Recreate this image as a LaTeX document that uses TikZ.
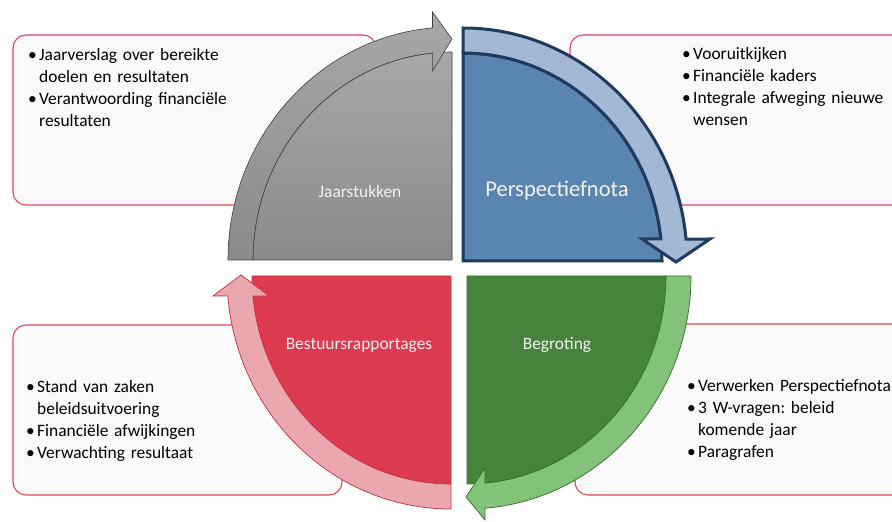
\documentclass[tikz,border=0pt]{standalone}
\usepackage{fontspec}
\setmainfont{Carlito}
\usetikzlibrary{calc}
\frenchspacing

\definecolor{boxred}{HTML}{E0475A}
\definecolor{boxfill}{HTML}{FAFAFA}
\definecolor{grayhi}{HTML}{A8A8A8}
\definecolor{graylo}{HTML}{8A8A8A}
\definecolor{grayline}{HTML}{3F3F3F}
\definecolor{bluedark}{HTML}{5A85B1}
\definecolor{bluelight}{HTML}{A3B8D5}
\definecolor{blueline}{HTML}{1F3A5C}
\definecolor{greendark}{HTML}{48833D}
\definecolor{greenlight}{HTML}{82C279}
\definecolor{greenline}{HTML}{356B2C}
\definecolor{reddark}{HTML}{DC3A4F}
\definecolor{redlight}{HTML}{EAA7B0}
\definecolor{redline}{HTML}{C42D40}
\definecolor{labelwhite}{HTML}{F2F2F2}

\newcommand{\bulitem}[1]{\hangindent=11pt\hangafter=1\noindent
  \makebox[11pt][l]{\textbullet}#1\par}

\begin{document}
\begin{tikzpicture}[x=1pt,y=1pt,
    infobox/.style={draw=boxred,line width=1.1pt,fill=boxfill,rounded corners=13pt},
    itemtext/.style={anchor=base west,inner sep=0pt,text width=#1,align=left,
      font=\fontsize{17.4}{22}\selectfont},
    quadlabel/.style={anchor=base,inner sep=0pt,text=labelwhite,
      font=\fontsize{17.4}{21}\selectfont},
    greyshape/.style={draw=grayline,line width=0.6pt,top color=grayhi,bottom color=graylo},
    blueshape/.style={draw=blueline,line width=3pt,fill=#1},
    greenshape/.style={draw=greenline,line width=0.7pt,fill=#1},
    redshape/.style={draw=redline,line width=0.7pt,fill=#1}]
  \clip (0,0) rectangle (892,522);
  \fill[white] (0,0) rectangle (892,522);

    \coordinate (J0) at (452,262);
    \coordinate (P0) at (463,261);
    \coordinate (B0) at (467,246);
    \coordinate (R0) at (451,246);
    \coordinate (J1) at (452,483);
    \coordinate (P1) at (676,260);
    \coordinate (B1) at (466,25);
    \coordinate (R1) at (241,247);

      \draw[infobox] (13,317) rectangle (376,487);
      \draw[infobox] (570,317) rectangle (910,487);
      \draw[infobox] (13,27) rectangle (342,197);
      \draw[infobox] (575,27) rectangle (910,198);

      \draw[greyshape] (J0) -- ++(180:199 and 208)
        arc[start angle=180,end angle=90,x radius=199,y radius=208] -- cycle;
      \draw[greyshape] (J0) ++(180:224 and 233)
        arc[start angle=180,end angle=95,x radius=224,y radius=233]
        -- ++(0,16) -- (J1) -- (432.6,451) -- ($(J0)+(95.6:199 and 208)$)
        arc[start angle=95.6,end angle=180,x radius=199,y radius=208] -- cycle;

      \draw[blueshape=bluedark] (P0) -- ++(90:199 and 208)
        arc[start angle=90,end angle=0,x radius=199,y radius=208] -- cycle;
      \draw[blueshape=bluelight] (P0) ++(90:224 and 233)
        arc[start angle=90,end angle=5.4,x radius=224,y radius=233]
        -- (710,283) -- (P1) -- (642,283) -- ($(P0)+(6.1:199 and 208)$)
        arc[start angle=6.1,end angle=90,x radius=199,y radius=208] -- cycle;

      \draw[greenshape=greendark] (B0) -- ++(0:199 and 208)
        arc[start angle=0,end angle=-90,x radius=199,y radius=208] -- cycle;
      \draw[greenshape=greenlight] (B0) ++(0:224 and 233)
        arc[start angle=0,end angle=-85.4,x radius=224,y radius=233]
        -- (485,2) -- (B1) -- (485,54) -- ($(B0)+(-84.8:199 and 208)$)
        arc[start angle=-84.8,end angle=0,x radius=199,y radius=208] -- cycle;

      \draw[redshape=reddark] (R0) -- ++(-90:199 and 208)
        arc[start angle=-90,end angle=-180,x radius=199,y radius=208] -- cycle;
      \draw[redshape=redlight] (R0) ++(-90:224 and 233)
        arc[start angle=-90,end angle=-175.1,x radius=224,y radius=233]
        -- (213,226) -- (R1) -- (269,226) -- ($(R0)+(-174.5:199 and 208)$)
        arc[start angle=-174.5,end angle=-90,x radius=199,y radius=208] -- cycle;

      \node[quadlabel] (jaar) at (360,324) {Jaarstukken};
      \node[quadlabel,font=\fontsize{22.5}{27}\selectfont] (pers) at (557,325) {Perspectiefnota};
      \node[quadlabel] (best) at (359,172) {Bestuursrapportages};
      \node[quadlabel] (begr) at (557,172) {Begroting};

      \node[itemtext=300pt] (jaartekst) at (28,461)
        {\bulitem{Jaarverslag over bereikte\newline doelen en resultaten}
         \bulitem{Verantwoording financiële\newline resultaten}};
      \node[itemtext=300pt] (perstekst) at (682,462)
        {\bulitem{Vooruitkijken}
         \bulitem{Financiële kaders}
         \bulitem{Integrale afweging nieuwe\newline wensen}};
      \node[itemtext=300pt] (besttekst) at (26,129)
        {\bulitem{Stand van zaken\newline beleidsuitvoering}
         \bulitem{Financiële afwijkingen}
         \bulitem{Verwachting resultaat}};
      \node[itemtext=300pt] (begrtekst) at (687,130)
        {\bulitem{Verwerken Perspectiefnota}
         \bulitem{3 W-vragen: beleid\newline komende jaar}
         \bulitem{Paragrafen}};
  \end{tikzpicture}
\end{document}
